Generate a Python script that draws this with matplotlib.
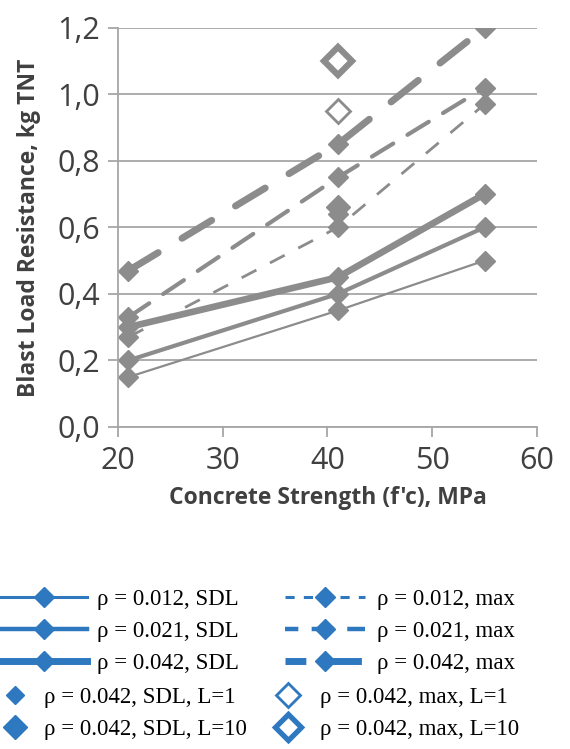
import matplotlib.pyplot as plt
from matplotlib.lines import Line2D

# concrete strength, MPa
fc = [21, 41, 55]

# blast load resistance, kg TNT
sdl_012 = [0.15, 0.35, 0.50]
sdl_021 = [0.20, 0.40, 0.60]
sdl_042 = [0.30, 0.45, 0.70]
max_012 = [0.27, 0.60, 0.97]
max_021 = [0.33, 0.75, 1.02]
max_042 = [0.47, 0.85, 1.20]

# single points at f'c = 41
fc_single = [41]
sdl_042_L1 = [0.64]
sdl_042_L10 = [0.66]
max_042_L1 = [0.95]
max_042_L10 = [1.10]

x_ticks = [20, 30, 40, 50, 60]
y_ticks = [0.0, 0.2, 0.4, 0.6, 0.8, 1.0, 1.2]
y_tick_labels = ["0,0", "0,2", "0,4", "0,6", "0,8", "1,0", "1,2"]

labels_lines = ["ρ = 0.012, SDL", "ρ = 0.021, SDL", "ρ = 0.042, SDL",
                "ρ = 0.012, max", "ρ = 0.021, max", "ρ = 0.042, max"]
labels_points = ["ρ = 0.042, SDL, L=1", "ρ = 0.042, SDL, L=10",
                 "ρ = 0.042, max, L=1", "ρ = 0.042, max, L=10"]

gray = "#8c8c8c"
blue = "#2e78c0"
text_col = "#404040"

fig = plt.figure(figsize=(5.7, 7.49), dpi=100)
ax = fig.add_axes([0.207, 0.430, 0.735, 0.533])

# chart (grey)
ax.plot(fc, sdl_012, color=gray, lw=1.6, marker="D", ms=10)
ax.plot(fc, sdl_021, color=gray, lw=3.0, marker="D", ms=10)
ax.plot(fc, sdl_042, color=gray, lw=4.8, marker="D", ms=10)
ax.plot(fc, max_012, color=gray, lw=2.0, marker="D", ms=10,
        linestyle=(0, (6, 5.5)))
ax.plot(fc, max_021, color=gray, lw=3.0, marker="D", ms=10,
        linestyle=(0, (6, 4)), dash_capstyle="round")
ax.plot(fc, max_042, color=gray, lw=5.0, marker="D", ms=10.5,
        linestyle=(0, (5, 4)), dash_capstyle="round")
ax.plot(fc_single, sdl_042_L1, color=gray, lw=0, marker="D", ms=10)
ax.plot(fc_single, sdl_042_L10, color=gray, lw=0, marker="D", ms=12)
ax.plot(fc_single, max_042_L1, color=gray, lw=0, marker="D", ms=12,
        mfc="white", mec=gray, mew=2)
ax.plot(fc_single, max_042_L10, color=gray, lw=0, marker="D", ms=14,
        mfc="white", mec=gray, mew=4.5)

ax.set_xlim(20, 60)
ax.set_ylim(0, 1.2)
ax.set_xticks(x_ticks)
ax.set_yticks(y_ticks)
ax.set_yticklabels(y_tick_labels)
ax.yaxis.grid(True, color="#a6a6a6", lw=1.3)
ax.set_axisbelow(True)
for s in ["top", "right"]:
    ax.spines[s].set_visible(False)
for s in ["left", "bottom"]:
    ax.spines[s].set_color("#a6a6a6")
    ax.spines[s].set_linewidth(1.3)
ax.tick_params(axis="both", colors="#a6a6a6", width=1.3, length=7,
               labelcolor=text_col, labelsize=22)
for lbl in ax.get_xticklabels() + ax.get_yticklabels():
    lbl.set_fontfamily("Open Sans")
ax.tick_params(axis="x", pad=7)
ax.tick_params(axis="y", pad=6)
ax.set_xlabel("Concrete Strength (f'c), MPa", fontsize=16.5, fontweight="bold",
              color=text_col, family="Open Sans", labelpad=7)
ax.set_ylabel("Blast Load Resistance, kg TNT", fontsize=16.5,
              fontweight="bold", color=text_col, family="Open Sans",
              labelpad=12)

# legend (blue), built like the original picture
h_lines = [
    Line2D([], [], color=blue, lw=2.2, marker="D", ms=10),
    Line2D([], [], color=blue, lw=3.2, marker="D", ms=10),
    Line2D([], [], color=blue, lw=5.0, marker="D", ms=10),
    Line2D([], [], color=blue, lw=2.2, marker="D", ms=10, linestyle=(0, (3, 3))),
    Line2D([], [], color=blue, lw=3.2, marker="D", ms=10, linestyle=(2, (5, 3))),
    Line2D([], [], color=blue, lw=5.0, marker="D", ms=10, linestyle=(2, (5, 3))),
]
h_points = [
    Line2D([], [], color=blue, lw=0, marker="D", ms=9),
    Line2D([], [], color=blue, lw=0, marker="D", ms=12),
    Line2D([], [], color=blue, lw=0, marker="D", ms=12, mfc="white",
           mec=blue, mew=2),
    Line2D([], [], color=blue, lw=0, marker="D", ms=13, mfc="white",
           mec=blue, mew=3.8),
]

leg_kw = dict(frameon=False, loc="upper left", borderpad=0, borderaxespad=0,
              prop={"family": "Liberation Serif", "size": 16.5},
              labelspacing=0.48, bbox_transform=fig.transFigure)

fig.legend(h_lines[:3], labels_lines[:3], bbox_to_anchor=(0.0, 0.214),
           handlelength=3.8, handletextpad=0.43, **leg_kw)
fig.legend(h_lines[3:], labels_lines[3:], bbox_to_anchor=(0.500, 0.214),
           handlelength=3.5, handletextpad=0.5, **leg_kw)
fig.legend(h_points[:2], labels_points[:2], bbox_to_anchor=(0.0, 0.083),
           handlelength=1.3, handletextpad=0.6, **leg_kw)
fig.legend(h_points[2:], labels_points[2:], bbox_to_anchor=(0.480, 0.083),
           handlelength=1.3, handletextpad=0.72, **leg_kw)

fig.savefig("out.png", dpi=100)
